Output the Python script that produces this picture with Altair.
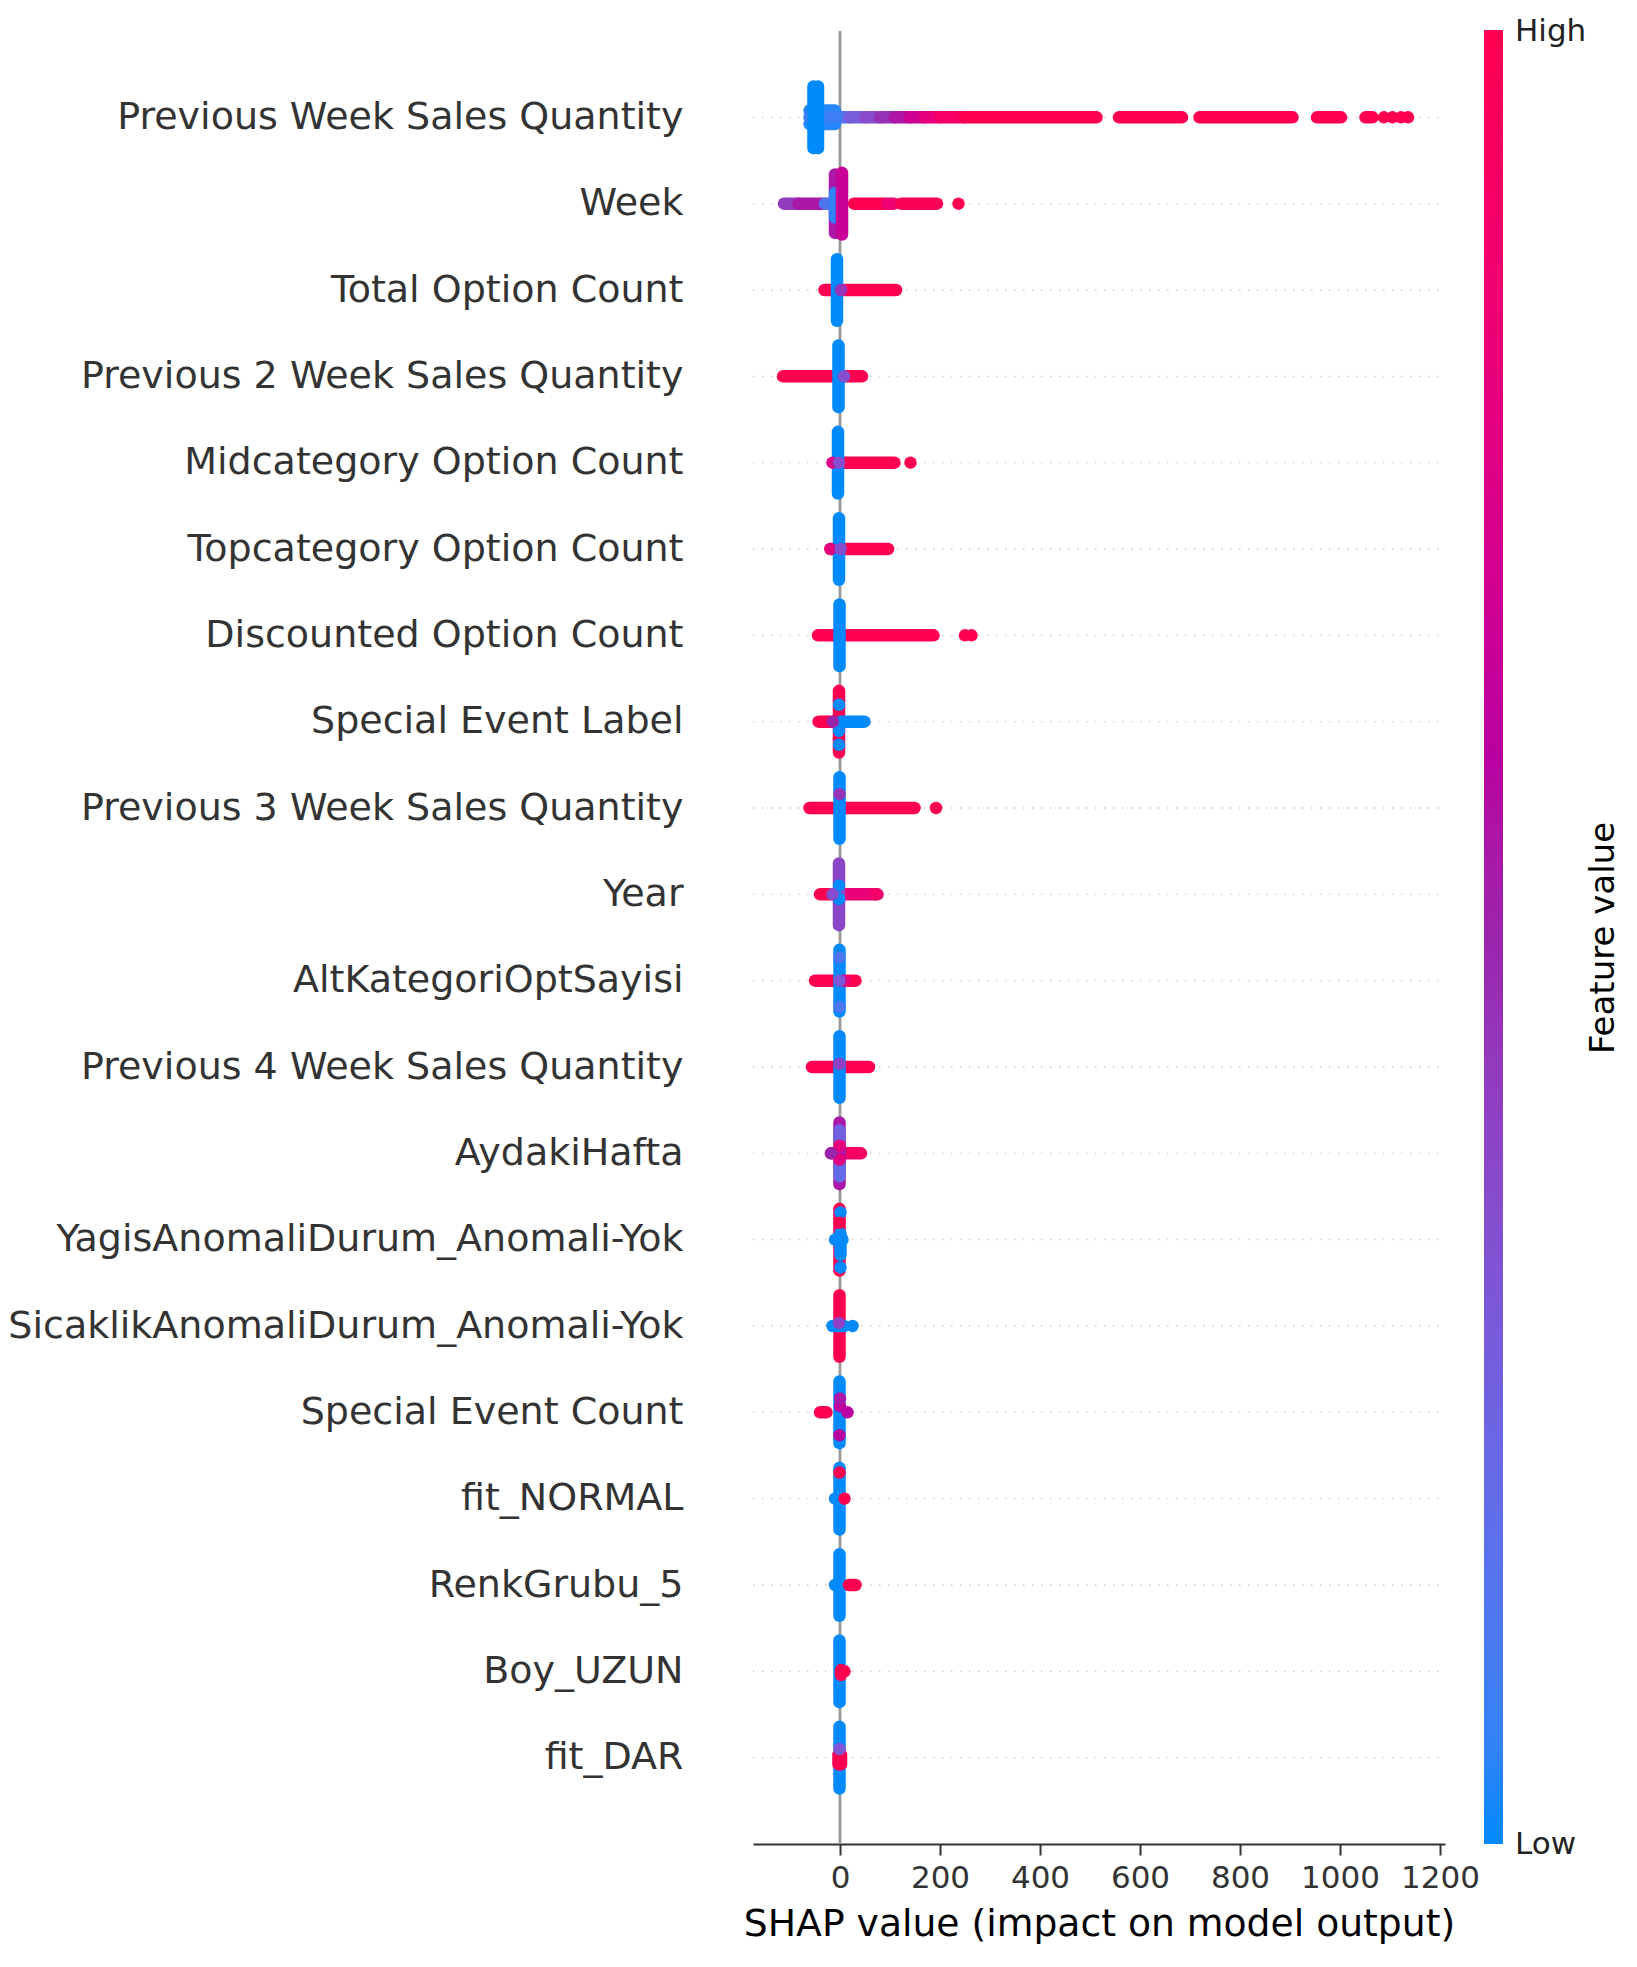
import json
import altair as alt
import pandas as pd

FONT = "DejaVu Sans"

FEATURES = [
    "Previous Week Sales Quantity", "Week", "Total Option Count",
    "Previous 2 Week Sales Quantity", "Midcategory Option Count",
    "Topcategory Option Count", "Discounted Option Count", "Special Event Label",
    "Previous 3 Week Sales Quantity", "Year", "AltKategoriOptSayisi",
    "Previous 4 Week Sales Quantity", "AydakiHafta",
    "YagisAnomaliDurum_Anomali-Yok", "SicaklikAnomaliDurum_Anomali-Yok",
    "Special Event Count", "fit_NORMAL", "RenkGrubu_5", "Boy_UZUN", "fit_DAR",
]
X_TICKS = [0, 200, 400, 600, 800, 1000, 1200]
X_RANGE = [-174, 1210]
COLOR_STOPS = ["#008afb", "#9b24ad", "#ff0051"]   # low -> high feature value
COLORBAR_LABELS = ["Low", "High"]

# Runs of overlapping dots read off the swarm, in drawing order:
# (feature index, shap from, shap to, swarm offset from, swarm offset to, feature value 0..1)
RUNS = [
    (0, -8, 20, 0, 0, 0.15), (0, 20, 50, 0, 0, 0.27), (0, 50, 80, 0, 0, 0.36),
    (0, 80, 110, 0, 0, 0.46), (0, 110, 140, 0, 0, 0.56), (0, 140, 170, 0, 0, 0.68),
    (0, 170, 200, 0, 0, 0.80), (0, 200, 250, 0, 0, 0.90), (0, 250, 513, 0, 0, 1.0),
    (0, 558, 684, 0, 0, 1.0), (0, 719, 905, 0, 0, 1.0), (0, 954, 1002, 0, 0, 1.0),
    (0, 1051, 1065, 0, 0, 1.0),
    (0, -61, -10, -0.22, -0.22, 0.03), (0, -61, -10, 0.22, 0.22, 0.03),
    (0, -61, -8, 0, 0, 0.08),
    (0, -53, -53, -1, 1, 0.0), (0, -44, -44, -1, 1, 0.0),

    (1, -112, -83, 0, 0, 0.42), (1, -83, -30, 0, 0, 0.55), (1, -30, -12, 0, 0, 0.12),
    (1, 28, 90, 0, 0, 1.0), (1, 95, 108, 0, 0, 0.85), (1, 122, 194, 0, 0, 0.97),
    (1, -10, -10, -0.95, 0.95, 0.55), (1, -10, -10, -0.45, 0.35, 0.05),
    (1, 4, 4, -1, 1, 0.66),

    (2, -31, 112, 0, 0, 1.0), (2, -6, -6, -1, 1, 0.0),
    (3, -114, 44, 0, 0, 1.0), (3, -3, -3, -1, 1, 0.0),
    (4, 8, 109, 0, 0, 1.0), (4, -4, -4, -1, 1, 0.0),
    (5, -19, 96, 0, 0, 1.0), (5, -2, -2, -1, 1, 0.0),
    (6, -44, 187, 0, 0, 1.0), (6, -1, -1, -1, 1, 0.0),

    (7, -43, -12, 0, 0, 1.0), (7, -2, -2, -1, 1, 1.0), (7, 2, 49, 0, 0, 0.0),
    (8, -61, 149, 0, 0, 1.0), (8, -1, -1, -1, 1, 0.0),
    (9, -40, -12, 0, 0, 1.0), (9, 8, 75, 0, 0, 0.82), (9, -2, -2, -1, 1, 0.38),
    (10, -50, 31, 0, 0, 1.0), (10, -1, -1, -1, 1, 0.0),
    (11, -56, 58, 0, 0, 1.0), (11, -1, -1, -1, 1, 0.0),

    (12, -18, 42, 0, 0, 0.92), (12, -1, -1, -1, 1, 0.55),
    (12, -1, -1, -0.75, -0.4, 0.2), (12, -1, -1, 0.45, 0.75, 0.25),
    (13, -1, -1, -1, 1, 1.0), (13, 1, 1, -0.5, 0.2, 0.0), (13, -10, 5, 0, 0, 0.0),
    (14, -1, -1, -1, 1, 1.0), (14, -15, 8, 0, 0, 0.0),
    (15, -40, -27, 0, 0, 1.0), (15, -1, -1, -1, 1, 0.0),
    (16, -1, -1, -1, 1, 0.0),
    (17, -1, -1, -1, 1, 0.0), (17, 18, 31, 0, 0, 1.0),
    (18, -1, -1, -1, 1, 0.0), (18, 2, 2, -0.12, 0.04, 1.0),
    (19, -1, -1, -1, 1, 0.0), (19, -3, -3, -0.22, 0.09, 1.0), (19, 2, 2, -0.22, 0.09, 1.0),
]

# Single dots: (feature index, shap value, swarm offset, feature value 0..1)
DOTS = [
    (0, 1088, 0, 1.0), (0, 1105, 0, 1.0), (0, 1122, 0, 1.0), (0, 1136, 0, 1.0),
    (1, 237, 0, 1.0),
    (2, 2, 0, 0.45),
    (3, 8, 0, 0.35),
    (4, -15, 0, 0.75), (4, -2, 0, 0.35), (4, 141, 0, 1.0),
    (5, -19, 0, 0.8), (5, 1, 0, 0.35),
    (6, 250, 0, 1.0), (6, 263, 0, 1.0),
    (7, -2, -0.75, 0.0), (7, -2, -0.3, 0.0), (7, -2, 0.55, 0.0), (7, -14, 0, 0.5),
    (8, -1, 0.45, 0.45), (8, 192, 0, 1.0),
    (9, -2, -0.15, 0.0), (9, -2, 0.28, 0.0), (9, 72, 0, 0.9), (9, -15, 0, 0.35),
    (10, -1, -0.85, 0.12), (10, -1, 0.75, 0.12), (10, 8, 0, 0.8), (10, -1, 0, 0.3),
    (11, -1, 0.1, 0.4),
    (12, -1, -0.2, 0.78), (12, -1, 0.25, 0.8), (12, -18, 0, 0.5),
    (13, 1, -0.9, 0.0), (13, 1, 0.88, 0.0), (13, -1, 0.55, 1.0),
    (14, 25, 0, 0.0), (14, -2, 0.1, 0.4),
    (15, -1, -0.74, 0.6), (15, 0, 0.2, 0.62), (15, 0, 0.45, 0.55), (15, 15, 0, 0.6),
    (16, -10, 0, 0.0), (16, 9, 0, 1.0), (16, -1, 0.85, 1.0),
    (17, -10, 0, 0.0),
    (18, 9, 0, 1.0),
    (19, -1, 0.28, 0.3),
]

N = len(FEATURES)
SPREAD = 0.357          # half height of the fullest swarm column, in rows
W, H = 692, 1813

runs = pd.DataFrame(RUNS, columns=["f", "xa", "xb", "sa", "sb", "v"])
dots = pd.DataFrame(DOTS, columns=["f", "xa", "sa", "v"])
dots["xb"] = dots["xa"]
dots["sb"] = dots["sa"]
swarm = pd.concat([runs, dots[runs.columns]], ignore_index=True)
swarm["ya"] = (N - 1 - swarm["f"]) + swarm["sa"] * SPREAD
swarm["yb"] = (N - 1 - swarm["f"]) + swarm["sb"] * SPREAD

rows = pd.DataFrame({"feature": FEATURES, "ya": [N - 1 - i for i in range(N)]})
zero_df = pd.DataFrame({"xa": [0]})

X_SCALE = alt.Scale(domain=X_RANGE, nice=False, zero=False)
Y_SCALE = alt.Scale(domain=[-1, N], nice=False, zero=False)
C_SCALE = alt.Scale(domain=[0, 1], range=COLOR_STOPS, interpolate="hcl")

LABEL_EXPR = json.dumps(list(reversed(FEATURES))) + "[datum.value]"

X_AXIS = alt.Axis(
    orient="bottom", values=X_TICKS, format="d", title="SHAP value (impact on model output)",
    grid=False, domainColor="#333333", domainWidth=2.2, tickColor="#333333",
    tickSize=11, tickWidth=2, labelFont=FONT, labelFontSize=31,
    labelColor="#333333", labelPadding=8, labelFlush=False, labelOverlap=False,
    titleFont=FONT, titleFontSize=37.7, titleFontWeight="normal",
    titleColor="#000000", titlePadding=12,
)
LEFT_AXIS = alt.Axis(
    orient="left", values=list(range(N)), labelExpr=LABEL_EXPR, title=None,
    domain=False, ticks=False, tickSize=0, grid=False, labelFont=FONT,
    labelFontSize=38, labelColor="#333333", labelPadding=70, labelLimit=1000,
    labelOverlap=False,
)
RIGHT_AXIS = alt.Axis(
    orient="right", title="Feature value", labels=False, ticks=False, domain=False,
    grid=False, titleFont=FONT, titleFontSize=34, titleFontWeight="normal",
    titleColor="#000000", titleAngle=270, titleBaseline="middle", titlePadding=158,
)
# end labels sit centred on the two ends of the colour bar
LEGEND = alt.Legend(
    type="gradient", orient="none", legendX=731, legendY=-1, direction="vertical",
    gradientLength=H + 1, gradientThickness=19, gradientStrokeWidth=0,
    values=[-0.0094, 1.0072],
    labelExpr="datum.value < 0.5 ? '%s' : '%s'" % tuple(COLORBAR_LABELS),
    labelFont=FONT, labelFontSize=31, labelColor="#222222", labelOffset=12,
    title=None, padding=0,
)

grid = alt.Chart(rows).mark_rule(
    color="#cccccc", strokeWidth=1.4, strokeDash=[1.5, 7.5]
).encode(
    y=alt.Y("ya:Q", scale=Y_SCALE, axis=RIGHT_AXIS),
    x=alt.value(0), x2=alt.value(W),
)

zero = alt.Chart(zero_df).mark_rule(color="#999999", strokeWidth=2.8).encode(
    x=alt.X("xa:Q", scale=X_SCALE, axis=X_AXIS),
    y=alt.value(0), y2=alt.value(H),
)

# every dot run and single dot is a round-capped stroke between two swarm positions
swarm_layer = alt.Chart(swarm).mark_rule(strokeWidth=12.5, strokeCap="round", opacity=1).encode(
    x=alt.X("xa:Q", scale=X_SCALE, axis=X_AXIS), x2="xb:Q",
    y=alt.Y("ya:Q", scale=Y_SCALE, axis=LEFT_AXIS), y2="yb:Q",
    color=alt.Color("v:Q", scale=C_SCALE, legend=LEGEND),
)

chart = alt.layer(grid, zero, swarm_layer).resolve_axis(
    y="independent"
).properties(
    width=W, height=H,
    autosize=alt.AutoSizeParams(type="none"),
    padding={"left": 753, "top": 31, "right": 192, "bottom": 123},
    background="white",
).configure_view(stroke=None)

chart.save("out.html", embed_options={"renderer": "svg", "actions": False})
